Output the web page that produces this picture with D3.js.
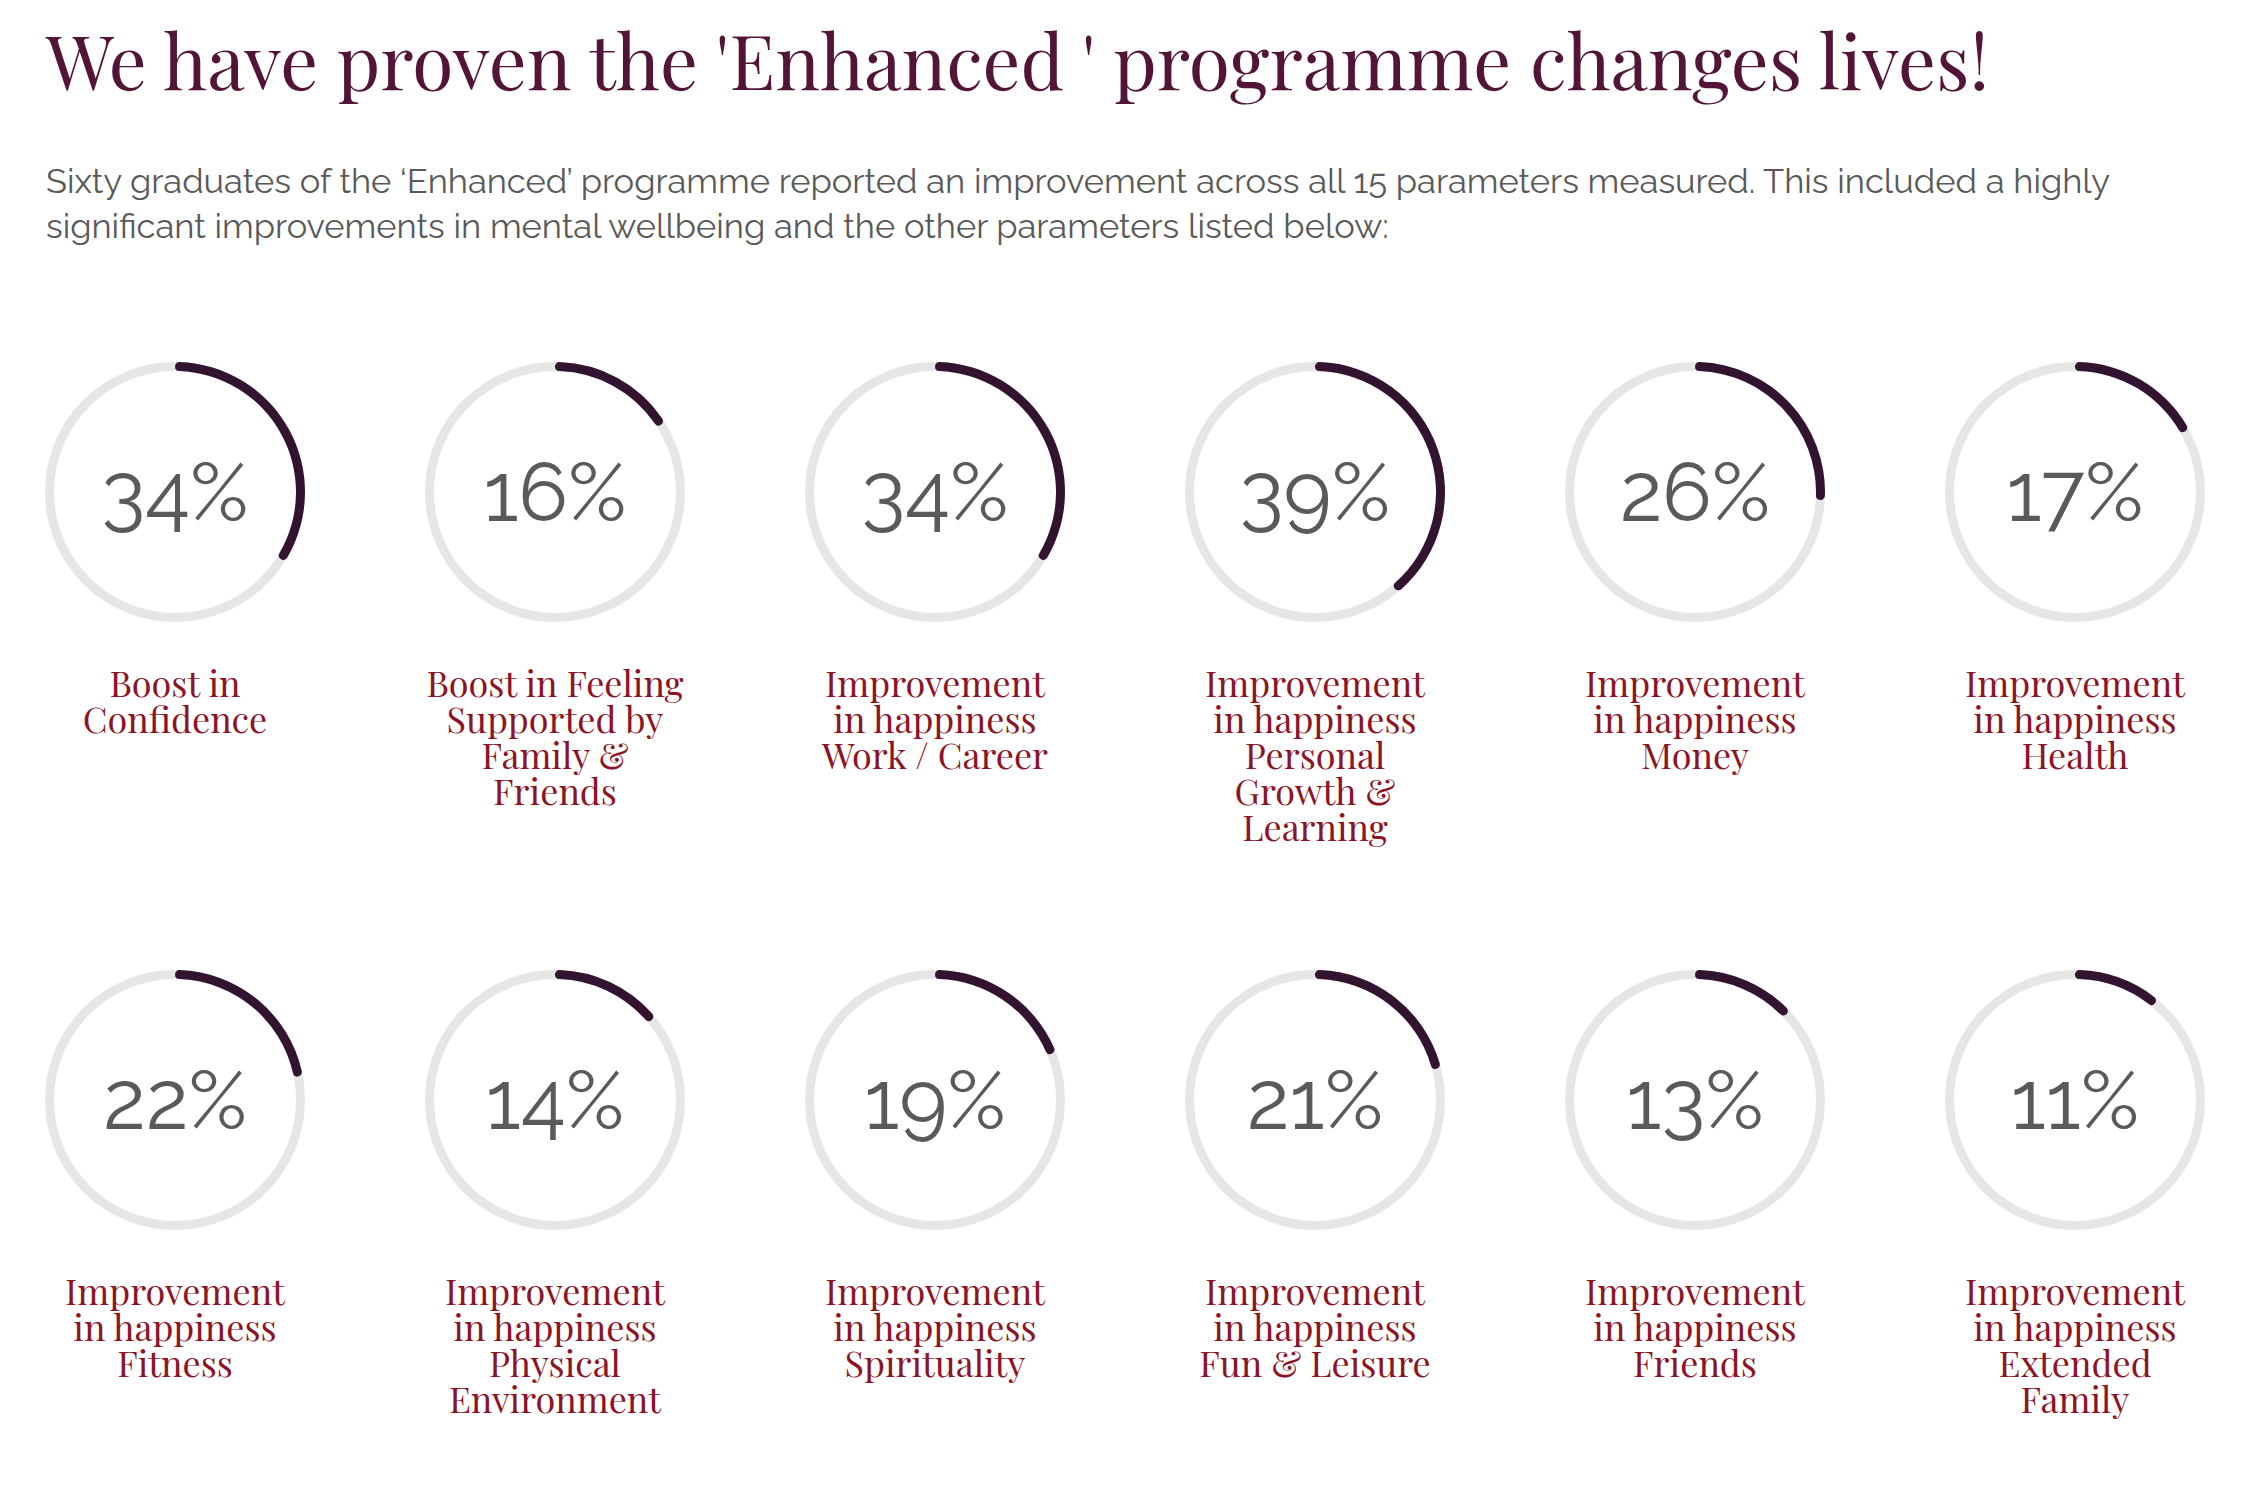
<!DOCTYPE html>
<html>
<head>
<meta charset="utf-8">
<script src="https://cdn.jsdelivr.net/npm/d3@7"></script>
<style>
  html, body { margin: 0; padding: 0; background: #fff; }
  svg { display: block; }
</style>
</head>
<body>
<svg id="graph" width="2254" height="1490"></svg>
<script>
// values
var titleText = "We have proven the 'Enhanced ' programme changes lives!";
var subtitleLines = [
    "Sixty graduates of the \u2018Enhanced\u2019 programme reported an improvement across all 15 parameters measured. This included a highly",
    "significant improvements in mental wellbeing and the other parameters listed below:"
];
var values = [34, 16, 34, 39, 26, 17, 22, 14, 19, 21, 13, 11];
var labels = [
    ["Boost in", "Confidence"],
    ["Boost in Feeling", "Supported by", "Family &", "Friends"],
    ["Improvement", "in happiness", "Work / Career"],
    ["Improvement", "in happiness", "Personal", "Growth &", "Learning"],
    ["Improvement", "in happiness", "Money"],
    ["Improvement", "in happiness", "Health"],
    ["Improvement", "in happiness", "Fitness"],
    ["Improvement", "in happiness", "Physical", "Environment"],
    ["Improvement", "in happiness", "Spirituality"],
    ["Improvement", "in happiness", "Fun & Leisure"],
    ["Improvement", "in happiness", "Friends"],
    ["Improvement", "in happiness", "Extended", "Family"]
];

var COLS = 6;
var R = 125.5, STROKE = 9;

var svg = d3.select("#graph");

svg.append("text")
    .attr("x", 46).attr("y", 90)
    .attr("font-family", "'Playfair Display', 'DejaVu Serif', serif")
    .attr("font-size", 75)
    .attr("fill", "#521537")
    .text(titleText);

svg.selectAll("text.sub")
    .data(subtitleLines)
    .enter()
    .append("text")
    .attr("class", "sub")
    .attr("x", 46)
    .attr("y", function(d, i) { return 193 + i * 45; })
    .attr("font-family", "Raleway, Lato, sans-serif")
    .attr("font-size", 34.5)
    .attr("fill", "#595959")
    .text(function(d) { return d; });

var x = d3.scalePoint().domain(d3.range(COLS)).range([175, 2075]);
var y = d3.scalePoint().domain([0, 1]).range([492, 1100]);
var angle = d3.scaleLinear().domain([0, 100]).range([0, 2 * Math.PI]);

var arc = d3.arc()
    .innerRadius(R - STROKE / 2)
    .outerRadius(R + STROKE / 2)
    .cornerRadius(STROKE / 2)
    .startAngle(0)
    .endAngle(function(d) { return angle(d); });

var cells = svg.selectAll("g.cell")
    .data(values)
    .enter()
    .append("g")
    .attr("class", "cell")
    .attr("transform", function(d, i) {
        return "translate(" + x(i % COLS) + "," + y(Math.floor(i / COLS)) + ")";
    });

cells.append("circle")
    .attr("r", R)
    .attr("fill", "none")
    .attr("stroke", "#e6e6e6")
    .attr("stroke-width", STROKE);

cells.append("path")
    .attr("d", arc)
    .attr("fill", "#331430");

cells.append("text")
    .attr("text-anchor", "middle")
    .attr("y", 29)
    .attr("font-family", "Raleway, Lato, sans-serif")
    .attr("font-size", 82)
    .attr("font-weight", 400)
    .style("font-variant-numeric", "oldstyle-nums")
    .attr("fill", "#5a5a5a")
    .text(function(d) { return d + "%"; });

cells.each(function(d, i) {
    d3.select(this).selectAll("text.label")
        .data(labels[i])
        .enter()
        .append("text")
        .attr("class", "label")
        .attr("text-anchor", "middle")
        .attr("y", function(t, j) { return 205 + j * 36; })
        .attr("font-family", "'Playfair Display', 'DejaVu Serif', serif")
        .attr("font-size", 36)
        .attr("fill", "#8b1526")
        .text(function(t) { return t; });
});
</script>
</body>
</html>
